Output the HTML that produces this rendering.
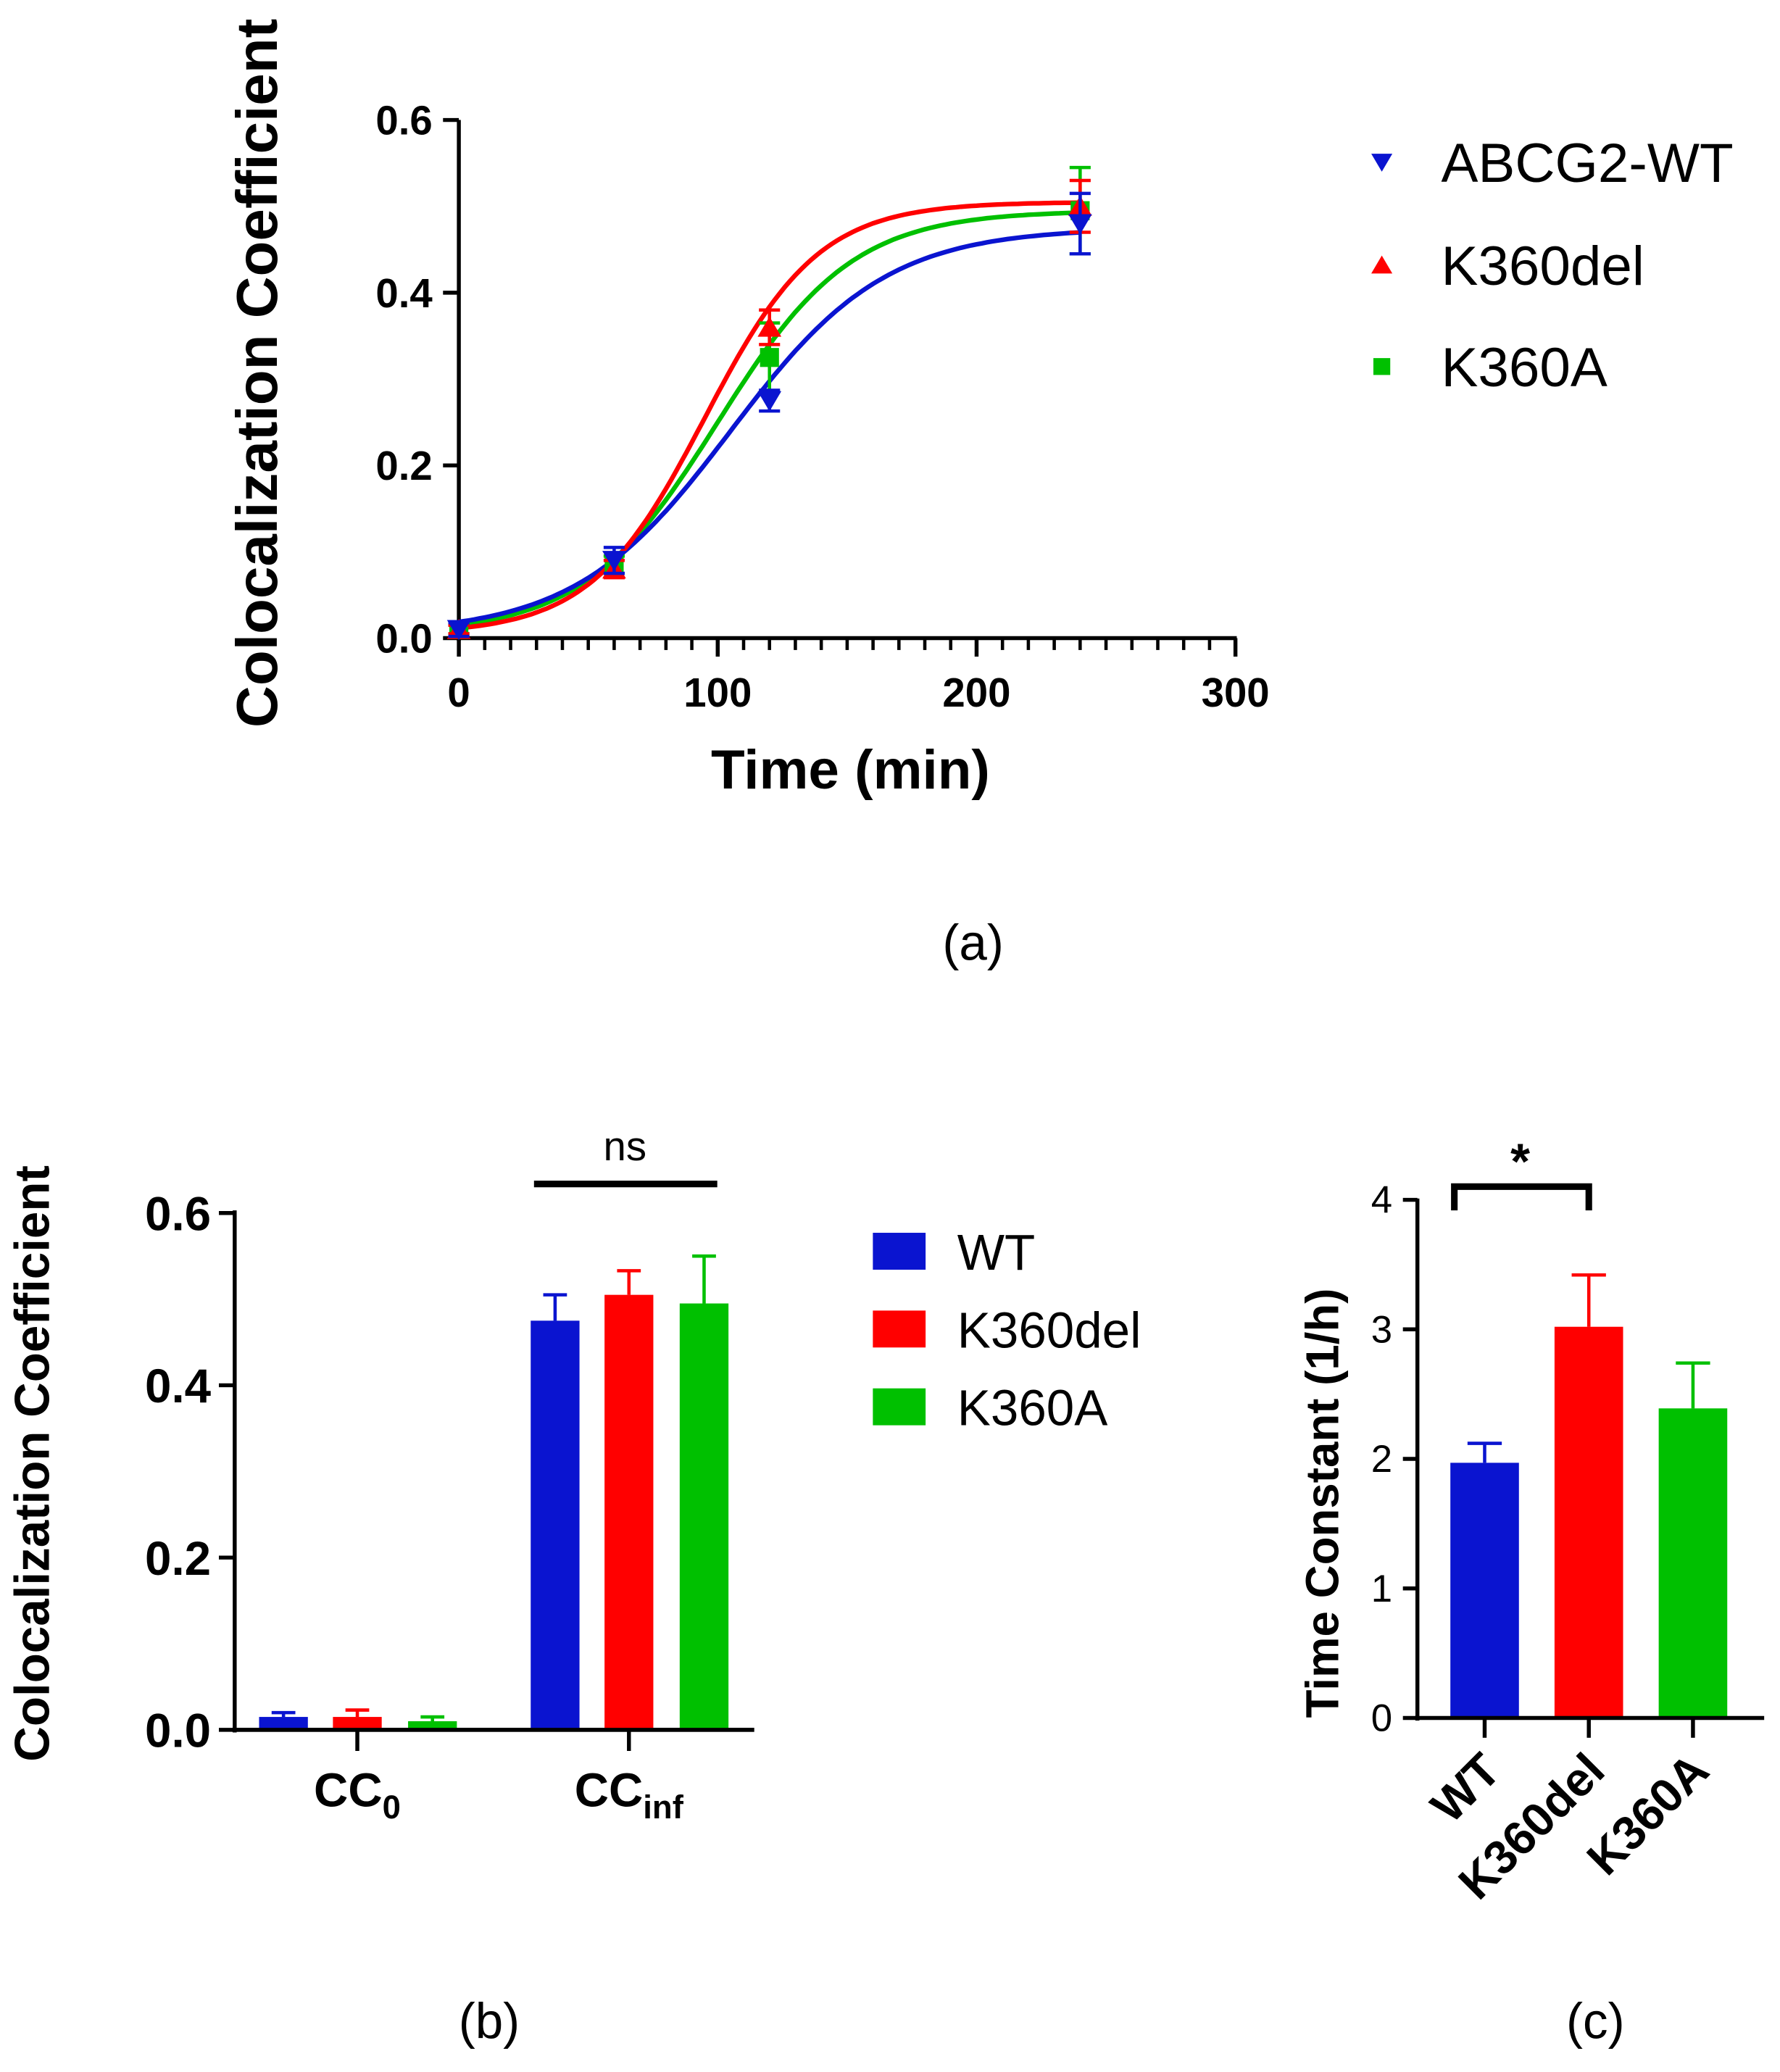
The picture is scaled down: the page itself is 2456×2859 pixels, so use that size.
<!DOCTYPE html>
<html><head><meta charset="utf-8"><style>
html,body{margin:0;padding:0;background:#fff}
svg{display:block}
text{font-family:"Liberation Sans",Arial,sans-serif}
</style></head><body>
<svg id="fig" xmlns="http://www.w3.org/2000/svg" width="2456" height="2859" viewBox="0 0 1350 1571.5" preserveAspectRatio="none">
<g id="pa"></g>
<g id="pb"></g>
<g id="pc"></g>
</svg>
<script>
// Panel a data
const aTimes=[0,60,120,240];
const aWT=[0.01,0.09,0.275,0.48];
const aWTerr=[0.008,0.015,0.012,0.035];
const aDel=[0.01,0.08,0.36,0.50];
const aDelErr=[0.005,0.01,0.02,0.03];
const aA=[0.01,0.085,0.325,0.495];
const aAerr=[0.005,0.01,0.04,0.05];
const fitWT=[0.005,0.475,105,30];
const fitDel=[0.005,0.505,95,22];
const fitA=[0.005,0.495,100,26];
const aYTicks=[0,0.2,0.4,0.6];
const aYLabels=["0.0","0.2","0.4","0.6"];
const aXTicks=[0,100,200,300];
// Panel b data
const bCats=["CC0","CCinf"];
const bWT=[0.015,0.475];const bWTerr=[0.005,0.03];
const bDel=[0.015,0.505];const bDelErr=[0.008,0.028];
const bA=[0.01,0.495];const bAerr=[0.005,0.055];
const bYTicks=[0,0.2,0.4,0.6];
// Panel c data
const cCats=["WT","K360del","K360A"];
const cVals=[1.97,3.02,2.39];
const cErr=[0.15,0.40,0.35];
const cYTicks=[0,1,2,3,4];

const NS="http://www.w3.org/2000/svg";
function mk(p,tag,attrs,txt){const e=document.createElementNS(NS,tag);for(const k in attrs)e.setAttribute(k,attrs[k]);if(txt!==undefined)e.textContent=txt;p.appendChild(e);return e;}
const BLUE="#0a14d0",RED="#ff0000",GREEN="#00c000";

// ---- Panel a
const pa=document.getElementById('pa');
const ax=t=>348+(t/300)*(937-348);
const ay=v=>484-(v/0.6)*(484-91);
let e;
e=mk(pa,'line',{x1:348,y1:91,x2:348,y2:486,stroke:'#000','stroke-width':3});

e=mk(pa,'line',{x1:346,y1:484,x2:938,y2:484,stroke:'#000','stroke-width':3});

aYTicks.forEach((v,i)=>{
  mk(pa,'line',{x1:336,y1:ay(v),x2:348,y2:ay(v),stroke:'#000','stroke-width':3});
  e=mk(pa,'text',{x:328,y:ay(v)+11,'text-anchor':'end','font-size':31,'font-weight':'bold'},aYLabels[i]);
  
});
for(let t=0;t<=300;t+=10){const maj=t%100===0;mk(pa,'line',{x1:ax(t),y1:484,x2:ax(t),y2:maj?498:493,stroke:'#000','stroke-width':maj?3:2.5});}
aXTicks.forEach(t=>{e=mk(pa,'text',{x:ax(t),y:536,'text-anchor':'middle','font-size':31,'font-weight':'bold'},String(t));
  });
e=mk(pa,'text',{x:645,y:598,'text-anchor':'middle','font-size':42,'font-weight':'bold'},'Time (min)');

e=mk(pa,'text',{x:0,y:0,transform:'translate(210,283) rotate(-90)','text-anchor':'middle','font-size':44,'font-weight':'bold'},'Colocalization Coefficient');

function fitCurve(f,col,name){let d='';for(let t=0;t<=240;t+=2){const y=f[0]+(f[1]-f[0])/(1+Math.exp(-(t-f[2])/f[3]));d+=(t?'L':'M')+ax(t).toFixed(1)+','+ay(y).toFixed(1);}
  const p=mk(pa,'path',{d:d,fill:'none',stroke:col,'stroke-width':3.5});}
function marker(g,shape,x,y,col,s){
  if(shape==='down')return mk(g,'path',{d:`M${x-s},${y-s*0.8}L${x+s},${y-s*0.8}L${x},${y+s*0.9}Z`,fill:col});
  if(shape==='up')return mk(g,'path',{d:`M${x-s},${y+s*0.8}L${x+s},${y+s*0.8}L${x},${y-s*0.9}Z`,fill:col});
  return mk(g,'rect',{x:x-s*0.8,y:y-s*0.8,width:s*1.6,height:s*1.6,fill:col});
}
function series(vals,errs,col,shape,name){
  vals.forEach((v,i)=>{const x=ax(aTimes[i]);
    mk(pa,'path',{d:`M${x},${ay(v-errs[i])}V${ay(v+errs[i])}M${x-8},${ay(v-errs[i])}H${x+8}M${x-8},${ay(v+errs[i])}H${x+8}`,stroke:col,'stroke-width':2.5,fill:'none'});
    e=marker(pa,shape,x,ay(v),col,9);});
}
fitCurve(fitA,GREEN,'k360a-fit');fitCurve(fitWT,BLUE,'wt-fit');fitCurve(fitDel,RED,'k360del-fit');
series(aA,aAerr,GREEN,'sq','k360a');series(aDel,aDelErr,RED,'up','k360del');series(aWT,aWTerr,BLUE,'down','wt');
[['down',BLUE,'ABCG2-WT',123],['up',RED,'K360del',201],['sq',GREEN,'K360A',278]].forEach(l=>{
  const g=mk(pa,'g',{});
  marker(g,l[0],1048,l[3],l[1],8);mk(g,'text',{x:1093,y:l[3]+15,'font-size':42},l[2]);});
e=mk(pa,'text',{x:738,y:728,'text-anchor':'middle','font-size':38},'(a)');


// ---- Panel b
const pb=document.getElementById('pb');
const by=v=>1312-(v/0.6)*(1312-920);
const bGroupX=[271,477];const off=[-56,0,57];const bw=37;
mk(pb,'line',{x1:178,y1:918,x2:178,y2:1314,stroke:'#000','stroke-width':3});
mk(pb,'line',{x1:176,y1:1312,x2:572,y2:1312,stroke:'#000','stroke-width':3});
bYTicks.forEach(v=>{mk(pb,'line',{x1:166,y1:by(v),x2:178,y2:by(v),stroke:'#000','stroke-width':3});
  e=mk(pb,'text',{x:160,y:by(v)+13,'text-anchor':'end','font-size':36,'font-weight':'bold'},v.toFixed(1));
  });
bGroupX.forEach(x=>mk(pb,'line',{x1:x,y1:1312,x2:x,y2:1328,stroke:'#000','stroke-width':3}));
[[bWT,bWTerr,BLUE,'wt'],[bDel,bDelErr,RED,'k360del'],[bA,bAerr,GREEN,'k360a']].forEach((s,si)=>{
  s[0].forEach((v,i)=>{const cx=bGroupX[i]+off[si];
    const top=by(v+s[1][i]);
    mk(pb,'path',{d:`M${cx},${by(v)}V${top}M${cx-9},${top}H${cx+9}`,stroke:s[2],'stroke-width':2.5});
    e=mk(pb,'rect',{x:cx-bw/2,y:by(v),width:bw,height:1311-by(v),fill:s[2]});
    });
});
mk(pb,'line',{x1:178,y1:1312,x2:572,y2:1312,stroke:'#000','stroke-width':3});
e=mk(pb,'text',{x:271,y:1370,'text-anchor':'middle','font-size':36,'font-weight':'bold'});
e.innerHTML='CC<tspan font-size="25" dy="9">0</tspan>';
e=mk(pb,'text',{x:477,y:1370,'text-anchor':'middle','font-size':36,'font-weight':'bold'});
e.innerHTML='CC<tspan font-size="25" dy="9">inf</tspan>';
mk(pb,'line',{x1:405,y1:898,x2:544,y2:898,stroke:'#000','stroke-width':5});
e=mk(pb,'text',{x:474,y:880,'text-anchor':'middle','font-size':31},'ns');

e=mk(pb,'text',{x:0,y:0,transform:'translate(37,1110) rotate(-90)','text-anchor':'middle','font-size':37,'font-weight':'bold'},'Colocalization Coefficient');

[[BLUE,'WT',935],[RED,'K360del',994],[GREEN,'K360A',1053]].forEach(l=>{
  const g=mk(pb,'g',{});
  mk(g,'rect',{x:662,y:l[2],width:40,height:28,fill:l[0]});mk(g,'text',{x:726,y:l[2]+28,'font-size':38},l[1]);});
e=mk(pb,'text',{x:371,y:1546,'text-anchor':'middle','font-size':38},'(b)');


// ---- Panel c
const pc=document.getElementById('pc');
const cy=v=>1303-(v/4)*(1303-910);
const cX=[1126,1205,1284];const cw=52;const cCols=[BLUE,RED,GREEN];
mk(pc,'line',{x1:1075,y1:909,x2:1075,y2:1305,stroke:'#000','stroke-width':3});
cYTicks.forEach(v=>{mk(pc,'line',{x1:1064,y1:cy(v),x2:1075,y2:cy(v),stroke:'#000','stroke-width':3});
  e=mk(pc,'text',{x:1056,y:cy(v)+10,'text-anchor':'end','font-size':29},String(v));
  });
cVals.forEach((v,i)=>{const cx=cX[i];const top=cy(v+cErr[i]);
  mk(pc,'path',{d:`M${cx},${cy(v)}V${top}M${cx-13},${top}H${cx+13}`,stroke:cCols[i],'stroke-width':2.5});
  e=mk(pc,'rect',{x:cx-cw/2,y:cy(v),width:cw,height:1302-cy(v),fill:cCols[i]});
  
  mk(pc,'line',{x1:cx,y1:1303,x2:cx,y2:1318,stroke:'#000','stroke-width':3});
  e=mk(pc,'text',{x:0,y:0,transform:`translate(${cx+14},${1345}) rotate(-45)`,'text-anchor':'end','font-size':36,'font-weight':'bold'},cCats[i]);
  });
mk(pc,'line',{x1:1073,y1:1303,x2:1338,y2:1303,stroke:'#000','stroke-width':3});
mk(pc,'path',{d:'M1103,918V900H1205V918',fill:'none',stroke:'#000','stroke-width':5});
e=mk(pc,'text',{x:1153,y:894,'text-anchor':'middle','font-size':38,'font-weight':'bold'},'*');

e=mk(pc,'text',{x:0,y:0,transform:'translate(1015,1140) rotate(-90)','text-anchor':'middle','font-size':35,'font-weight':'bold'},'Time Constant (1/h)');

e=mk(pc,'text',{x:1210,y:1546,'text-anchor':'middle','font-size':38},'(c)');

</script>
</body></html>
